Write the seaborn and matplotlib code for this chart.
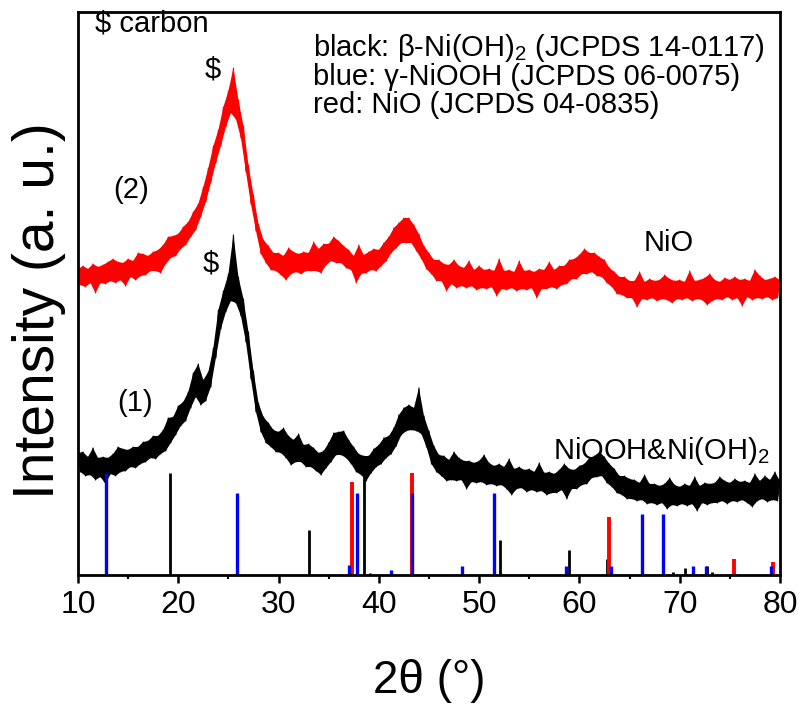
import numpy as np
import pandas as pd
import matplotlib
matplotlib.use("Agg")
import matplotlib.pyplot as plt
import seaborn as sns
from matplotlib.ticker import MultipleLocator

sns.set_theme(style="white")
plt.rcParams['font.family'] = ['Liberation Sans', 'DejaVu Sans']
plt.rcParams['mathtext.default'] = 'regular'

# ---------------- data ----------------
# upper envelope samples at 10.00, 10.50, ... 80.00 ; lower envelope at 10.25, 10.75, ... 79.75
x_hi = np.arange(0, 141) * 0.5 + 10.0
x_lo = np.arange(0, 140) * 0.5 + 10.25

red_hi = [306, 309, 306, 311, 308, 310, 313, 316, 313, 312,
          316, 314, 322, 321, 319, 323, 325, 330, 338, 339,
          341, 348, 353, 363, 371, 388, 407, 429, 445, 468,
          484, 507, 475, 449, 410, 380, 351, 335, 329, 322,
          322, 319, 327, 323, 321, 323, 322, 333, 326, 331,
          331, 338, 334, 329, 325, 319, 330, 320, 323, 326,
          325, 332, 338, 347, 352, 357, 357, 350, 341, 329,
          322, 315, 315, 311, 310, 315, 309, 307, 314, 305,
          309, 305, 306, 304, 316, 304, 305, 303, 314, 304,
          305, 303, 306, 305, 313, 305, 309, 309, 315, 316,
          320, 326, 322, 322, 318, 315, 307, 303, 298, 298,
          294, 294, 303, 293, 296, 294, 295, 300, 296, 294,
          295, 293, 304, 294, 295, 297, 301, 295, 293, 297,
          295, 298, 295, 296, 294, 305, 299, 295, 296, 298,
          295]
red_lo = [290, 288, 292, 282, 292, 291, 294, 292, 295, 289,
          298, 295, 299, 300, 304, 304, 302, 311, 317, 319,
          326, 330, 338, 345, 358, 373, 392, 412, 429, 448,
          462, 456, 437, 403, 371, 344, 321, 312, 305, 304,
          300, 295, 301, 303, 301, 304, 304, 304, 302, 310,
          314, 312, 312, 307, 305, 292, 301, 302, 305, 304,
          309, 314, 322, 327, 332, 332, 332, 324, 316, 306,
          301, 294, 294, 284, 291, 287, 289, 287, 289, 285,
          287, 286, 288, 279, 286, 285, 287, 284, 286, 285,
          287, 277, 286, 286, 288, 286, 290, 291, 296, 296,
          301, 301, 303, 299, 298, 292, 288, 281, 280, 277,
          277, 268, 276, 275, 277, 274, 276, 275, 272, 276,
          275, 277, 274, 276, 275, 270, 274, 276, 275, 278,
          275, 277, 269, 278, 275, 277, 276, 278, 275, 277]

black_hi = [122, 123, 118, 127, 117, 118, 117, 121, 128, 126,
            125, 128, 128, 133, 134, 139, 139, 145, 157, 158,
            169, 173, 183, 202, 211, 195, 203, 227, 265, 284,
            301, 340, 298, 276, 243, 204, 172, 158, 152, 145,
            143, 147, 139, 135, 141, 130, 131, 127, 122, 124,
            132, 142, 143, 144, 135, 128, 121, 119, 119, 126,
            130, 137, 139, 147, 160, 167, 170, 167, 187, 159,
            144, 129, 120, 119, 115, 123, 117, 114, 114, 112,
            114, 120, 112, 109, 111, 108, 116, 106, 108, 105,
            106, 103, 112, 102, 103, 101, 105, 111, 106, 105,
            109, 111, 117, 119, 123, 118, 111, 106, 99, 99,
            96, 95, 92, 100, 91, 91, 89, 91, 97, 90,
            88, 91, 89, 98, 89, 92, 91, 92, 98, 94,
            92, 96, 93, 94, 92, 101, 94, 99, 95, 103,
            94]
black_lo = [103, 99, 100, 95, 98, 91, 101, 99, 103, 104,
            108, 107, 111, 113, 117, 116, 121, 124, 132, 140,
            149, 154, 167, 178, 170, 174, 188, 217, 246, 263,
            274, 272, 259, 233, 196, 163, 143, 132, 128, 123,
            122, 117, 110, 113, 113, 108, 108, 104, 100, 107,
            113, 120, 120, 117, 111, 103, 100, 94, 102, 108,
            111, 117, 121, 129, 140, 144, 145, 144, 141, 128,
            111, 103, 99, 94, 95, 94, 95, 86, 93, 92,
            93, 90, 91, 89, 90, 86, 80, 86, 87, 83,
            85, 83, 84, 80, 82, 82, 85, 76, 86, 86,
            90, 91, 97, 98, 99, 92, 88, 82, 80, 76,
            76, 74, 75, 71, 72, 70, 72, 66, 70, 69,
            71, 69, 71, 64, 72, 70, 72, 72, 74, 71,
            74, 73, 75, 72, 68, 74, 76, 73, 75, 74]

# reference patterns (positions in 2theta, relative heights)
beta_pos = [19.2, 33.0, 38.5, 39.1, 52.1, 59.0, 62.7, 69.3, 70.5, 72.7, 73.2]
beta_h = [102, 45, 106, 2, 35, 25, 16, 3, 7, 9, 3]
nio_pos = [37.3, 43.3, 62.9, 75.4, 79.3]
nio_h = [93, 102, 58, 16, 13]
gamma_pos = [12.8, 25.9, 37.0, 37.8, 41.2, 43.3, 48.3, 51.5, 58.7, 63.1, 66.2, 68.3, 71.3, 72.6, 79.1]
gamma_h = [102, 82, 10, 82, 5, 82, 9, 82, 9, 9, 61, 61, 9, 9, 9]


def zigzag(hi, lo):
    xs, ys = [], []
    for i in range(len(hi)):
        xs.append(x_hi[i]); ys.append(hi[i])
        if i < len(lo):
            xs.append(x_lo[i]); ys.append(lo[i])
    return xs, ys


rx, ry = zigzag(red_hi, red_lo)
bx, by = zigzag(black_hi, black_lo)
df = pd.concat([
    pd.DataFrame({"two_theta": bx, "intensity": by, "sample": "(1)"}),
    pd.DataFrame({"two_theta": rx, "intensity": ry, "sample": "(2)"}),
], ignore_index=True)

# ---------------- figure ----------------
fig = plt.figure(figsize=(8.04, 7.06), dpi=100)
ax = fig.add_axes([78 / 804, 1 - 575 / 706, (780 - 78) / 804, (575 - 12) / 706])

# body of the noisy band: polygon through the upper and lower envelope samples
for hi, lo, col in [(black_hi, black_lo, "black"), (red_hi, red_lo, "#ff0000")]:
    ax.fill(list(x_hi) + list(x_lo[::-1]), list(hi) + list(lo[::-1]),
            color=col, linewidth=0, zorder=2)

sns.lineplot(data=df, x="two_theta", y="intensity", hue="sample",
             palette={"(1)": "black", "(2)": "#ff0000"}, estimator=None,
             sort=False, linewidth=0.8, legend=False, ax=ax, zorder=3)

ax.vlines(beta_pos, 0, beta_h, color="black", linewidth=2.0, zorder=4)
ax.vlines(nio_pos, 0, nio_h, color="#ff0000", linewidth=2.8, zorder=4)
ax.vlines(gamma_pos, 0, gamma_h, color="#0000ff", linewidth=2.4, zorder=4)

ax.set_xlim(10, 80)
ax.set_ylim(0, 563)
ax.set_yticks([])
ax.xaxis.set_major_locator(MultipleLocator(10))
ax.xaxis.set_minor_locator(MultipleLocator(5))
ax.tick_params(axis="x", which="major", direction="out", length=6, width=1.8,
               labelsize=23, pad=5, bottom=True, top=False, colors="black")
ax.tick_params(axis="x", which="minor", direction="out", length=3, width=1.5,
               bottom=True, top=False, colors="black")
for s in ax.spines.values():
    s.set_color("black")
    s.set_linewidth(2.0)
    s.set_zorder(5)

ax.set_xlabel("2θ (°)", fontsize=33, color="black")
ax.xaxis.set_label_coords(0.5, -0.15)
ax.set_ylabel("Intensity (a. u.)", fontsize=41, color="black")
ax.yaxis.set_label_coords(-0.017, 0.47)

tk = dict(color="black", fontsize=21)
ax.text(11.7, 552, "$ carbon", ha="left", va="center", **tk)
ax.text(23.46, 505, "$", ha="center", va="center", **tk)
ax.text(33.4, 527, "black: β-Ni(OH)$_2$ (JCPDS 14-0117)", ha="left", va="center", **tk)
ax.text(33.4, 498, "blue: γ-NiOOH (JCPDS 06-0075)", ha="left", va="center", **tk)
ax.text(33.4, 470, "red: NiO (JCPDS 04-0835)", ha="left", va="center", **tk)
ax.text(15.3, 385, "(2)", ha="center", va="center", **tk)
ax.text(23.2, 312, "$", ha="center", va="center", **tk)
ax.text(68.9, 332, "NiO", ha="center", va="center", **tk)
ax.text(15.7, 172, "(1)", ha="center", va="center", **tk)
ax.text(57.35, 124, "NiOOH&Ni(OH)$_2$", ha="left", va="center", **tk)

fig.savefig("out.png", dpi=100, facecolor="white")
